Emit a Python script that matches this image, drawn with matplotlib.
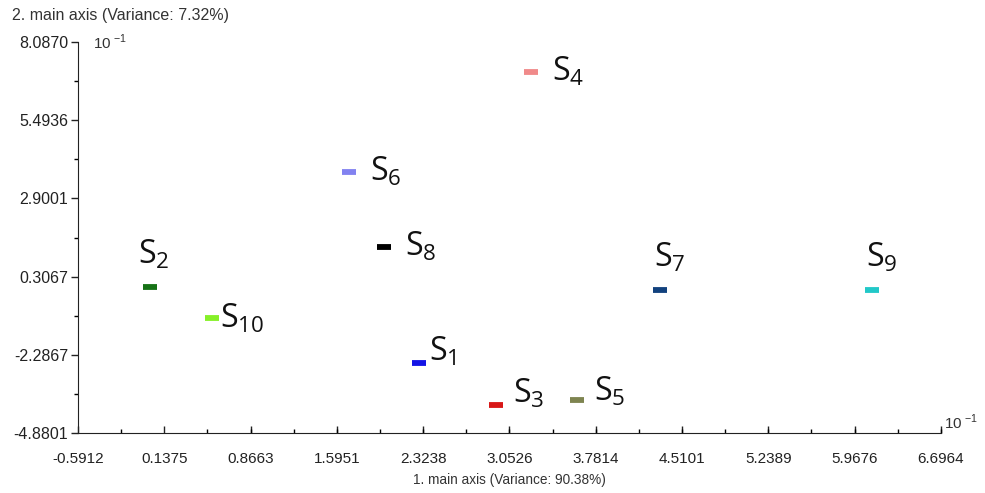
import numpy as np
import matplotlib.pyplot as plt
from matplotlib.ticker import FixedLocator, AutoMinorLocator

# sample scores on the first two main axes (units of 10^-1)
samples = ["1", "2", "3", "4", "5", "6", "7", "8", "9", "10"]
axis1 = [2.288, 0.017, 2.939, 3.234, 3.622, 1.697, 4.323, 1.993, 6.114, 0.540]
axis2 = [-2.559, -0.038, -3.952, 7.092, -3.786, 3.776, -0.138, 1.288, -0.138, -1.066]
colors = ["#1414e6", "#167216", "#d81818", "#f08a8a", "#7e8450",
          "#8282f0", "#12427e", "#000000", "#22c8c8", "#86f028"]

xticks = [-0.5912, 0.1375, 0.8663, 1.5951, 2.3238, 3.0526,
          3.7814, 4.5101, 5.2389, 5.9676, 6.6964]
yticks = [-4.8801, -2.2867, 0.3067, 2.9001, 5.4936, 8.0870]

# label offsets in points
offsets = [(7, 8), (-9, 11), (12, 8), (15, 0), (12, 6),
           (15, 0), (-4, 11), (15, 0), (-4, 11), (6, -1)]
valign = ["center", "bottom", "center", "center", "center",
          "center", "bottom", "center", "bottom", "center"]

plt.rcParams["font.family"] = ["Liberation Sans", "DejaVu Sans"]

fig = plt.figure(figsize=(9.85, 4.93), dpi=100)
ax = fig.add_axes([0.0792, 0.1217, 0.8761, 0.7931])

for x, y, c in zip(axis1, axis2, colors):
    ax.plot(x, y, marker="_", ms=10.5, mew=4.2, color=c, ls="none")

for name, x, y, off, va in zip(samples, axis1, axis2, offsets, valign):
    ax.annotate(r"$\mathregular{S_{%s}}$" % name, (x, y), xytext=off,
                textcoords="offset points", fontsize=23, va=va, ha="left",
                family=["Open Sans", "DejaVu Sans"], color="#111111")

ax.set_xlim(xticks[0], xticks[-1])
ax.set_ylim(yticks[0], yticks[-1])
ax.xaxis.set_major_locator(FixedLocator(xticks))
ax.yaxis.set_major_locator(FixedLocator(yticks))
ax.set_xticklabels(["%.4f" % v for v in xticks])
ax.set_yticklabels(["%.4f" % v for v in yticks])
ax.xaxis.set_minor_locator(AutoMinorLocator(2))
ax.yaxis.set_minor_locator(AutoMinorLocator(2))
ax.tick_params(axis="x", which="major", direction="in", length=5, width=1,
               labelsize=11, colors="#222222", pad=14)
ax.tick_params(axis="x", which="minor", direction="in", length=3, width=1)
ax.tick_params(axis="y", which="major", direction="out", length=5, width=1,
               labelsize=11.5, colors="#222222", pad=2)
ax.tick_params(axis="y", which="minor", direction="out", length=3, width=1)
for s in ["top", "right"]:
    ax.spines[s].set_visible(False)
for s in ["left", "bottom"]:
    ax.spines[s].set_color("#222222")

fig.text(0.012, 0.968, "2. main axis (Variance: 7.32%)", fontsize=11.5,
         color="#333333", va="center")
fig.text(0.094, 0.915, r"10$^{\ \mathregular{-1}}$", fontsize=11,
         color="#333333", va="center")
fig.text(0.5175, 0.026, "1. main axis (Variance: 90.38%)", fontsize=9.8,
         color="#333333", ha="center", va="center")
fig.text(0.958, 0.143, r"10$^{\ \mathregular{-1}}$", fontsize=11,
         color="#333333", va="center")

fig.savefig("out.png", dpi=100)
